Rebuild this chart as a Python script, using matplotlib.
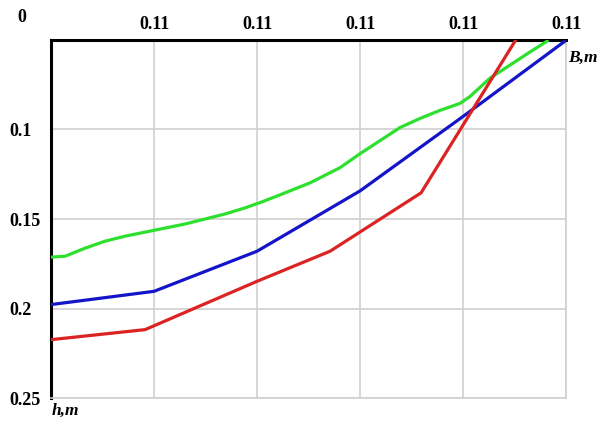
import numpy as np
import matplotlib
matplotlib.use("Agg")
import matplotlib.pyplot as plt

# grid columns along B, depth h on an evenly spaced (inverted) scale
x_ticks = [0, 1, 2, 3, 4, 5]
x_labels = ["", "0.11", "0.11", "0.11", "0.11", "0.11"]
y_ticks = [0.05, 0.10, 0.15, 0.20, 0.25]
y_labels = ["", "0.1", "0.15", "0.2", "0.25"]

green_x = [0, 0.136, 0.330, 0.524, 0.718, 1.010, 1.301, 1.495, 1.689, 1.883, 2.049, 2.223,
           2.515, 2.806, 3.0, 3.194, 3.388, 3.583, 3.777, 3.971, 4.068, 4.262, 4.456, 4.650, 4.816]
green_y = [0.1713, 0.1708, 0.1663, 0.1624, 0.1596, 0.1562, 0.1528, 0.1500, 0.1472, 0.1438,
           0.1404, 0.1365, 0.1298, 0.1213, 0.1135, 0.1062, 0.0989, 0.0938, 0.0893, 0.0854,
           0.0815, 0.0713, 0.0640, 0.0567, 0.0506]

blue_x = [0, 1, 2, 3, 4, 4.99]
blue_y = [0.1978, 0.1904, 0.1680, 0.1343, 0.0927, 0.0506]

red_x = [0, 0.913, 2.0, 2.709, 3.592, 4.505]
red_y = [0.2174, 0.2118, 0.1848, 0.1680, 0.1354, 0.0506]

font = {"family": "Liberation Serif", "weight": "bold", "size": 13}

fig = plt.figure(figsize=(6.01, 4.21), dpi=100)
ax = fig.add_axes([0.0849, 0.0546, 0.857, 0.8504])

ax.plot(green_x, green_y, color="#2ee02e", lw=2.3, solid_joinstyle="round", zorder=3)
ax.plot(blue_x, blue_y, color="#1414c8", lw=2.3, zorder=3)
ax.plot(red_x, red_y, color="#dc2323", lw=2.3, zorder=3)

ax.set_xlim(0, 5)
ax.set_ylim(0.25, 0.05)
ax.xaxis.tick_top()
ax.set_xticks(x_ticks)
ax.set_xticklabels(x_labels, fontdict=font)
ax.set_yticks(y_ticks)
ax.set_yticklabels(y_labels, fontdict=font, ha="left")
ax.tick_params(axis="x", length=0, pad=5)
ax.tick_params(axis="y", length=0, pad=30)
ax.grid(True, color="#d0d0d0", lw=1.2)

for s in ["left", "top"]:
    ax.spines[s].set_linewidth(2.2)
    ax.spines[s].set_color("black")
for s in ["right", "bottom"]:
    ax.spines[s].set_linewidth(1.2)
    ax.spines[s].set_color("#d0d0d0")

fig.text(22 / 601, 1 - 18 / 421, "0", ha="center", va="center", **font)
fig.text(568 / 601, 1 - 58 / 421, "B,m", ha="left", va="center",
         family="Liberation Serif", weight="bold", style="italic", size=12.5)
fig.text(52 / 601, 1 - 411 / 421, "h,m", ha="left", va="center",
         family="Liberation Serif", weight="bold", style="italic", size=12.5)

fig.savefig("out.png", dpi=100)
